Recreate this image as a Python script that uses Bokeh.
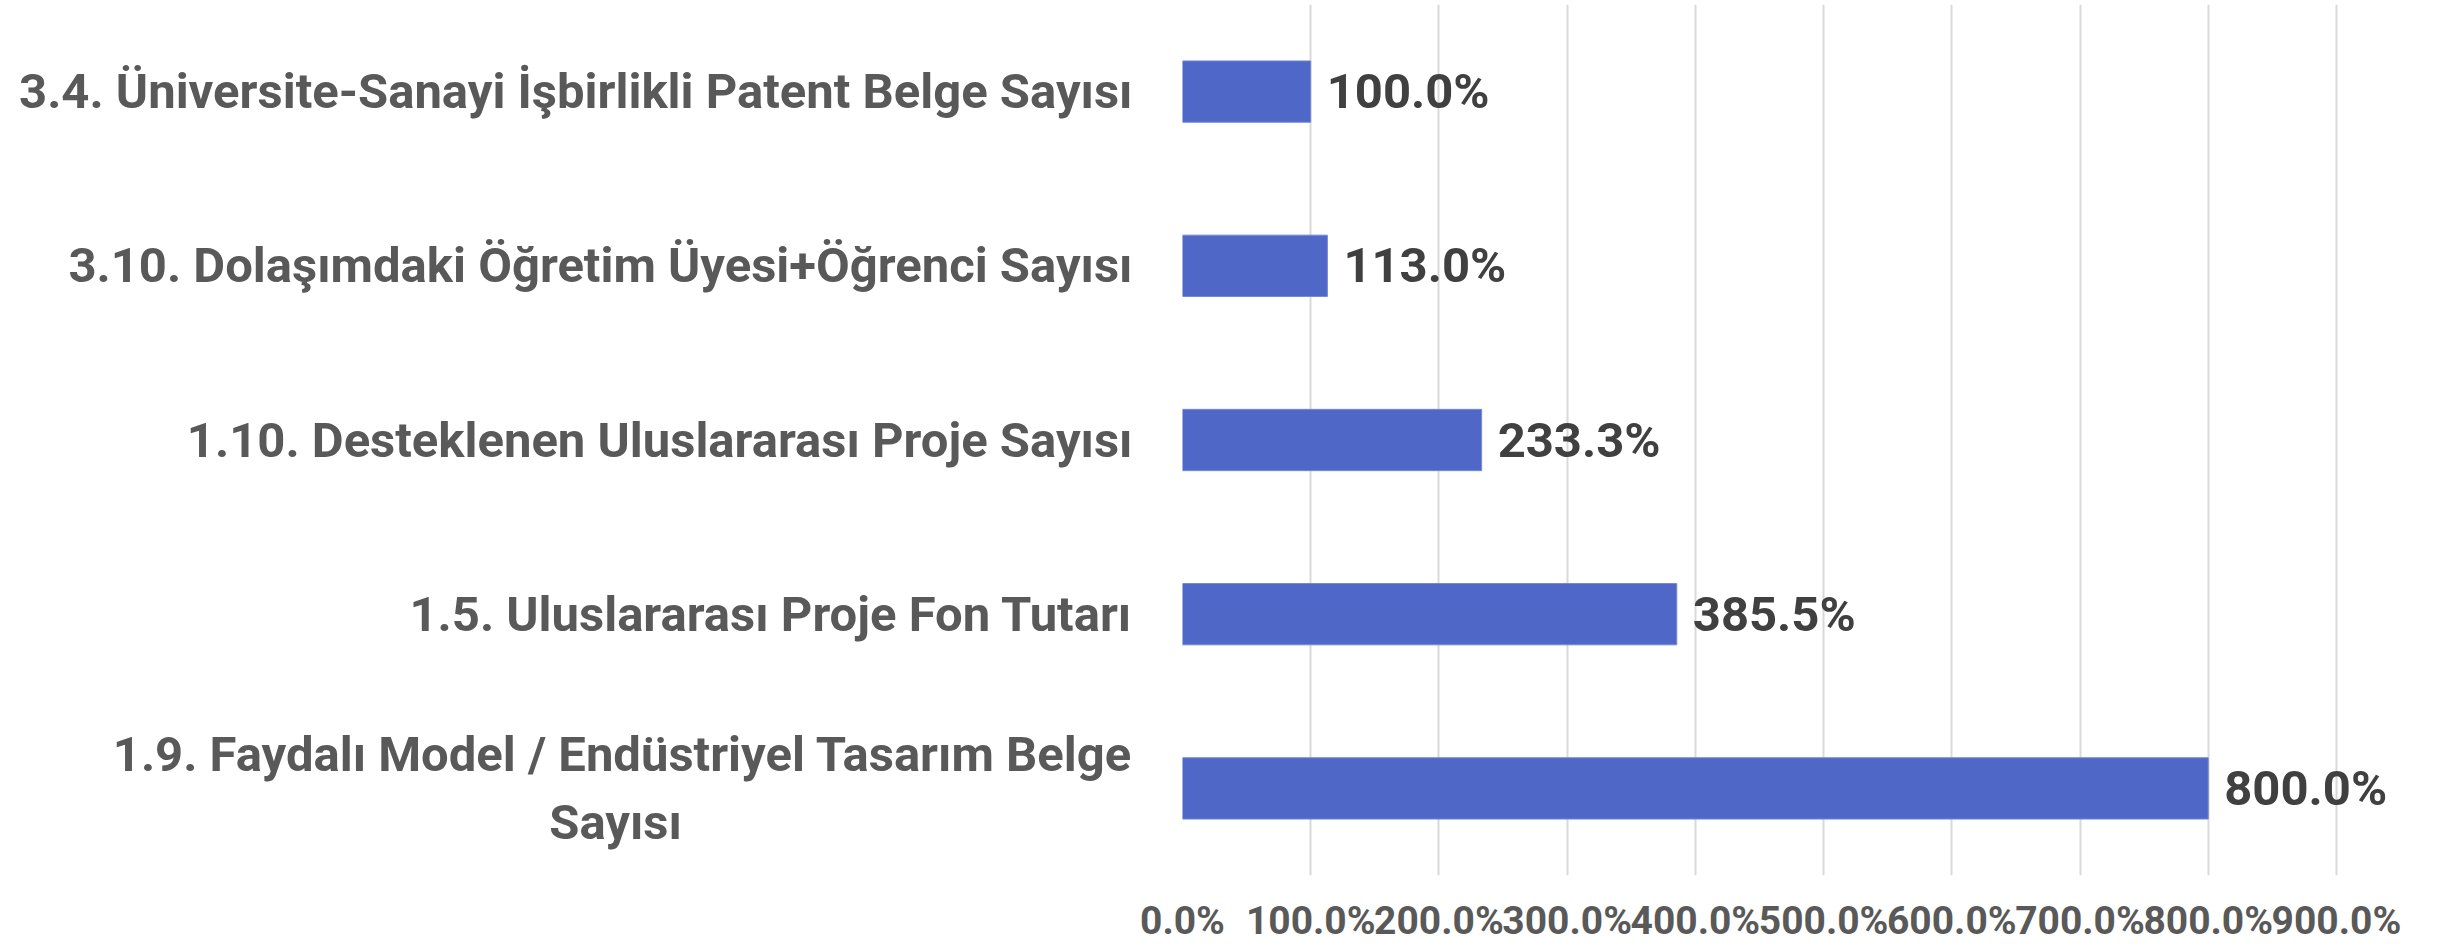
from bokeh.plotting import figure
from bokeh.models import ColumnDataSource, LabelSet, FixedTicker, Range1d, PrintfTickFormatter
from bokeh.core.properties import value
from bokeh.embed import file_html
from bokeh.resources import INLINE

categories = [
    "3.4. Üniversite-Sanayi İşbirlikli Patent Belge Sayısı",
    "3.10. Dolaşımdaki Öğretim Üyesi+Öğrenci Sayısı",
    "1.10. Desteklenen Uluslararası Proje Sayısı",
    "1.5. Uluslararası Proje Fon Tutarı",
    "1.9. Faydalı Model / Endüstriyel Tasarım Belge\nSayısı" + "\u00a0" * 37,
]
values = [100.0, 113.0, 233.3, 385.5, 800.0]
x_ticks = [0, 100, 200, 300, 400, 500, 600, 700, 800, 900]

FONT = "Roboto"
idx = list(range(len(categories)))
source = ColumnDataSource(dict(
    y=idx,
    v=values,
    lab=[f"{v:.1f}%" for v in values],
))

p = figure(width=2438, height=946, output_backend="svg", toolbar_location=None,
           x_range=Range1d(0, 979.6), y_range=Range1d(4.5, -0.5),
           min_border_left=1182, min_border_right=0, min_border_top=4, min_border_bottom=68)
p.outline_line_color = None
p.background_fill_color = "white"
p.border_fill_color = "white"

p.hbar(y="y", right="v", left=0, height=0.352, source=source,
       fill_color="#4F67C7", line_color="#7588D5", line_width=1)

labels = LabelSet(x="v", y="y", text="lab", source=source, x_offset=16,
                  text_baseline="middle", text_align="left",
                  text_font=value(FONT), text_font_style="bold",
                  text_font_size="49px", text_color="#404040")
p.add_layout(labels)

# x axis
p.xaxis.ticker = FixedTicker(ticks=x_ticks)
p.xaxis.formatter = PrintfTickFormatter(format="%.1f%%")
p.xaxis.axis_line_color = None
p.xaxis.major_tick_line_color = None
p.xaxis.minor_tick_line_color = None
p.xaxis.major_tick_out = 0
p.xaxis.major_tick_in = 0
p.xaxis.major_label_standoff = 22
p.xaxis.major_label_text_font = FONT
p.xaxis.major_label_text_font_style = "bold"
p.xaxis.major_label_text_font_size = "39px"
p.xaxis.major_label_text_color = "#595959"

# y axis
p.yaxis.ticker = FixedTicker(ticks=idx)
p.yaxis.major_label_overrides = {i: c for i, c in enumerate(categories)}
p.yaxis.axis_line_color = None
p.yaxis.major_tick_line_color = None
p.yaxis.minor_tick_line_color = None
p.yaxis.major_tick_out = 0
p.yaxis.major_tick_in = 0
p.yaxis.major_label_standoff = 50
p.yaxis.major_label_text_font = FONT
p.yaxis.major_label_text_font_style = "bold"
p.yaxis.major_label_text_font_size = "49px"
p.yaxis.major_label_text_color = "#595959"

p.xgrid.ticker = FixedTicker(ticks=x_ticks)
p.xgrid.grid_line_color = "#D9D9D9"
p.xgrid.grid_line_width = 2
p.ygrid.grid_line_color = None

open("out.html", "w").write(file_html(p, INLINE))
